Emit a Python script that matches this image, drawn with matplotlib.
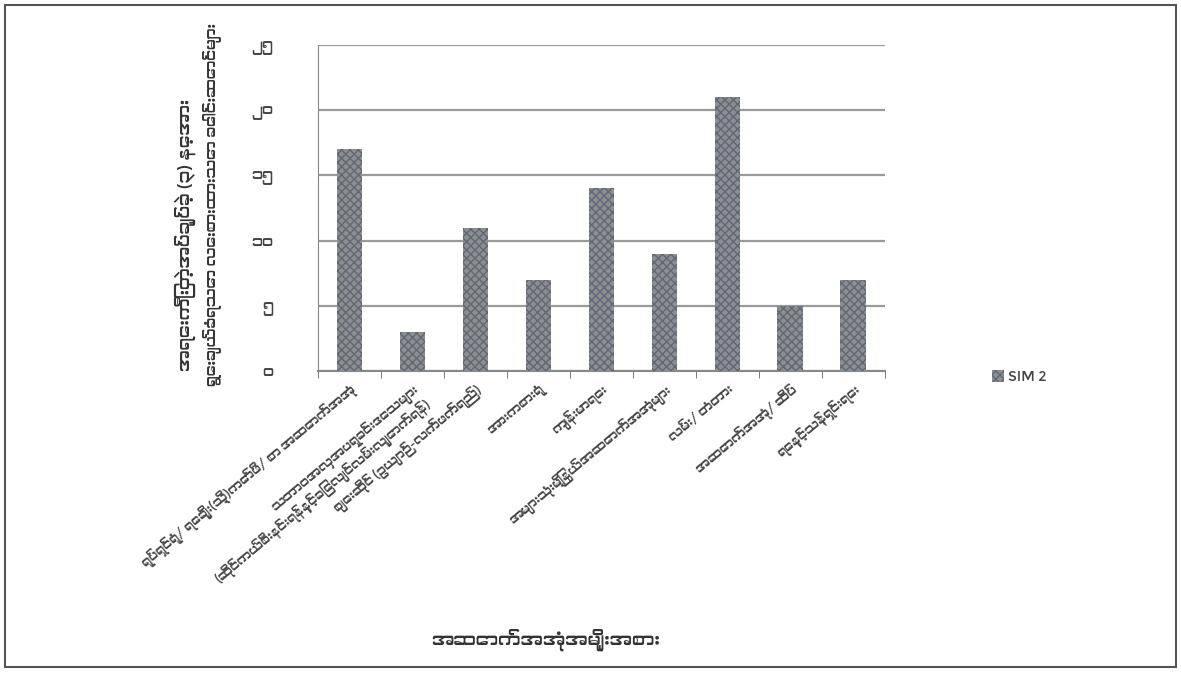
import matplotlib
matplotlib.use("Agg")
import matplotlib.pyplot as plt
from matplotlib import font_manager as fm
from matplotlib.patches import Rectangle

# ---- data ----
categories = [
    "ရုပ်ရှင်ရုံ/ ရေချိုး(သို့)ကော်ဖီ/ စာ အဆောက်အအုံ",
    "သဘာဝအလှအပရှုခင်းဒေသများ\n(ဆိုင်ကယ်စီးနင်းရန်နှင့်ခြေလျင်လမ်းလျှောက်ရန်)",
    "ဈေးဆိုင် (ဥယျာဉ်-လက်ဖက်ရည်)",
    "အားကစားရုံ",
    "ကျန်းမာရေး",
    "အများသုံးမြို့နယ်အဆောက်အအုံများ",
    "လမ်း/ တံတား",
    "အဆောက်အအုံ/ ဆိပ်",
    "ရေနှင့်သန့်ရှင်းရေး",
]
values = [17, 3, 11, 7, 14, 9, 21, 5, 7]
yticks = [0, 5, 10, 15, 20, 25]
ytick_labels = ["၀", "၅", "၁၀", "၁၅", "၂၀", "၂၅"]
series_name = "SIM 2"
xlabel = "အဆောက်အအုံအမျိုးအစား"
ylabel_line1 = "အရေးကြီးတဲ့အပ်ချုပ်ခဲ့ (၃) နေ့အား"
ylabel_line2 = "ရွေးချယ်ခံရသော လေးစားထားသော ခေါင်းဆောင်များ"

# ---- fonts: prefer any installed Myanmar-capable family ----
fams = []
for f in fm.fontManager.ttflist:
    n = f.name.lower()
    if any(k in n for k in ("myanmar", "padauk", "pyidaungsu", "zawgyi")):
        if f.name not in fams:
            fams.append(f.name)
plt.rcParams["font.family"] = fams + ["DejaVu Sans"]
plt.rcParams["hatch.linewidth"] = 1.0

fig = plt.figure(figsize=(11.81, 6.74), dpi=100)
fig.patch.set_facecolor("white")
ax = fig.add_axes([0.269, 0.4496, 0.480, 0.4837])

x = list(range(len(values)))
ax.bar(x, values, width=0.4, color="#8e8e8e", edgecolor="#5d6878",
       hatch="xxxx", linewidth=0.0, zorder=3)

ax.set_xlim(-0.5, len(values) - 0.5)
ax.set_ylim(0, 25)
ax.set_yticks(yticks)
ax.set_yticklabels(ytick_labels, fontsize=11, color="#444444")
ax.tick_params(axis="y", length=0, pad=32)
ax.yaxis.grid(True, color="#9a9a9a", linewidth=1.6, zorder=0)
ax.set_axisbelow(True)

ax.set_xticks(x)
ax.set_xticklabels(categories, rotation=40, ha="right",
                   rotation_mode="anchor", fontsize=9, color="#444444")
ax.tick_params(axis="x", length=0, pad=8)
ax.set_xticks([i - 0.5 for i in range(len(values) + 1)], minor=True)
ax.tick_params(axis="x", which="minor", length=5, color="#666666", direction="out")

for s in ("top", "right"):
    ax.spines[s].set_visible(False)
ax.spines["left"].set_color("#888888")
ax.spines["bottom"].set_color("#888888")
ax.spines["bottom"].set_linewidth(1.5)

fig.text(545 / 1181, 1 - 640 / 674, xlabel, ha="center", va="center",
         fontsize=13, color="#333333")
fig.text(185 / 1181, 1 - 235 / 674, ylabel_line1, rotation=90,
         ha="center", va="center", fontsize=12.5, color="#333333")
fig.text(212 / 1181, 1 - 205 / 674, ylabel_line2, rotation=90,
         ha="center", va="center", fontsize=10.8, color="#333333")

leg = ax.legend([series_name], loc="center left",
                bbox_to_anchor=(980 / 1181, 1 - 377 / 674),
                bbox_transform=fig.transFigure, frameon=False,
                fontsize=10, handlelength=0.8, handleheight=0.9,
                handletextpad=0.3)
for t in leg.get_texts():
    t.set_color("#444444")

# scanned page frame
fig.add_artist(Rectangle((0.004, 0.01), 0.992, 0.982, transform=fig.transFigure,
                         fill=False, edgecolor="#555555", linewidth=1.5))

fig.savefig("out.png", dpi=100, facecolor="white")
